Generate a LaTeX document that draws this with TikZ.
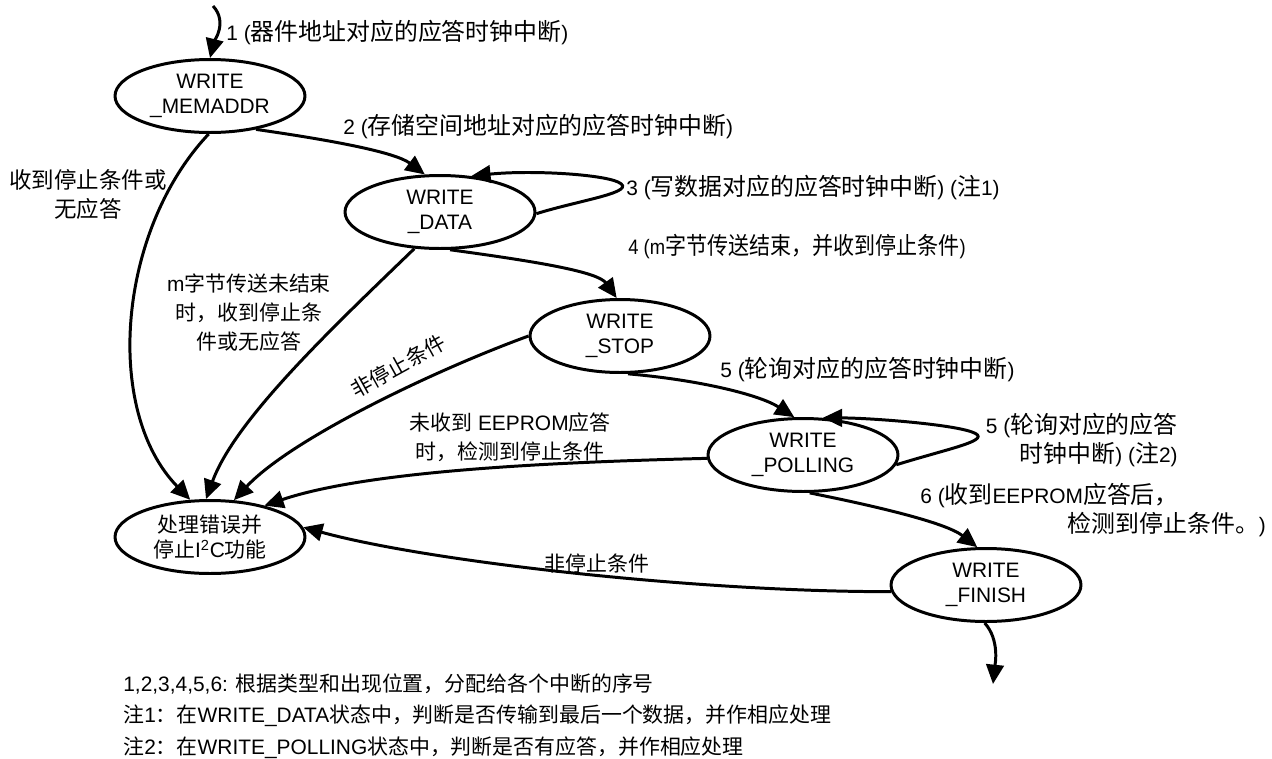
\documentclass[tikz,border=0pt]{standalone}
\usepackage{fontspec}
\usepackage{graphicx}
\setmainfont{Liberation Sans}
\newfontfamily\cjkfont{Noto Sans CJK SC}
\newcommand\zh[1]{{\cjkfont #1}}
\newcommand\zhb[1]{{\fontsize{13.6}{17}\cjkfont #1}}
\usetikzlibrary{arrows.meta,shapes.geometric}
\tikzset{
  state/.style={ellipse,draw,line width=1.7pt,minimum width=3.8cm,minimum height=1.46cm,inner sep=0pt,align=center,font=\fontsize{11.9}{14.5}\selectfont},
  arr/.style={line width=1.7pt,-{Triangle[length=11pt,width=10pt]}},
  lbl/.style={inner sep=0pt,font=\fontsize{11.9}{16.5}\selectfont},
  tlbl/.style={inner sep=0pt,font=\fontsize{11.9}{17}\selectfont},
}
\begin{document}
\begin{tikzpicture}[x=0.02cm,y=-0.02cm]
\useasboundingbox (0,0) rectangle (1272,758);
% states
\node[state] (mem) at (210,96) {WRITE\\\_MEMADDR};
\node[state] (data) at (440,212) {WRITE\\\_DATA};
\node[state,minimum width=3.6cm] (stop) at (620,336) {WRITE\\\_STOP};
\node[state] (poll) at (803,455) {WRITE\\\_POLLING};
\node[state] (fin) at (986,585) {WRITE\\\_FINISH};
\node[state] (err) at (210,537) {\zh{处理错误并}\\\zh{停止}I\textsuperscript{2}C\zh{功能}};
\coordinate (start) at (213,6);
\coordinate (end) at (993,684);
% connectors
\draw[arr] (start) .. controls (228,22) and (214,42) .. (mem.north);
\draw[arr] (mem.-36) .. controls (330,140) and (395,152) .. (data.112);
\draw[arr] (data.-1) .. controls (580,200) and (640,192) .. (618,182) .. controls (600,174) and (530,170) .. (data.49);
\draw[arr] (data.-75) .. controls (540,262) and (598,272) .. (stop.95);
\draw[arr] (stop.-78) .. controls (700,380) and (760,395) .. (poll.103);
\draw[arr] (poll.-6) .. controls (950,448) and (995,440) .. (972,432) .. controls (950,424) and (870,418) .. (poll.62);
\draw[arr] (poll.-80) .. controls (870,505) and (945,522) .. (fin.103);
\draw[arr] (fin.-92) .. controls (1000,640) and (995,665) .. (end);
\draw[arr] (fin.184) .. controls (700,592) and (430,562) .. (err.6);
\draw[arr] (poll.182) .. controls (560,462) and (370,470) .. (err.30);
\draw[arr] (stop.180) .. controls (430,372) and (290,440) .. (err.57);
\draw[arr] (data.235) .. controls (330,330) and (235,420) .. (err.96);
\draw[arr] (mem.-92) .. controls (118,230) and (103,410) .. (err.118);
% labels
\node[tlbl,anchor=west] (l1) at (226,33) {1 (\zhb{器件地址对应的应答时钟中断})};
\node[tlbl,anchor=west] (l2) at (343,127) {2 (\zhb{存储空间地址对应的应答时钟中断})};
\node[tlbl,anchor=west] (l3) at (626,188) {3 (\zhb{写数据对应的应答时钟中断}) (\zhb{注}1)};
\node[tlbl,anchor=west] (l4) at (628,247) {\scalebox{0.88}[1]{4 (m\zhb{字节传送结束，并收到停止条件})}};
\node[tlbl,anchor=west] (l5) at (720,370) {5 (\zhb{轮询对应的应答时钟中断})};
\node[tlbl,anchor=east,align=right] (l5b) at (1178,440) {5 (\zhb{轮询对应的应答}\\\zhb{时钟中断}) (\zhb{注}2)};
\node[tlbl,anchor=west,align=left] (l6) at (920,510) {6 (\zhb{收到}EEPROM\zhb{应答后，}\\\hspace*{2.95cm}\zhb{检测到停止条件。})};
\node[lbl] (l7) at (597,563) {\zh{非停止条件}};
\node[lbl,align=center] (l8) at (510,437) {\zh{未收到} EEPROM\zh{应答}\\\zh{时，检测到停止条件}};
\node[lbl,rotate=29] (l9) at (398,366) {\zh{非停止条件}};
\node[lbl,align=center] (l10) at (249,313) {m\zh{字节传送未结束}\\\zh{时，收到停止条}\\\zh{件或无应答}};
\node[lbl,align=center,font=\fontsize{12.8}{16.5}\selectfont] (l11) at (88,194) {\zh{收到停止条件或}\\\zh{无应答}};
% notes
\node[lbl,anchor=west] (n1) at (123,684) {1,2,3,4,5,6: \zh{根据类型和出现位置，分配给各个中断的序号}};
\node[lbl,anchor=west] (n2) at (123,716) {\zh{注}1\zh{：在}WRITE\_DATA\zh{状态中，判断是否传输到最后一个数据，并作相应处理}};
\node[lbl,anchor=west] (n3) at (123,748) {\zh{注}2\zh{：在}WRITE\_POLLING\zh{状态中，判断是否有应答，并作相应处理}};
\end{tikzpicture}
\end{document}
